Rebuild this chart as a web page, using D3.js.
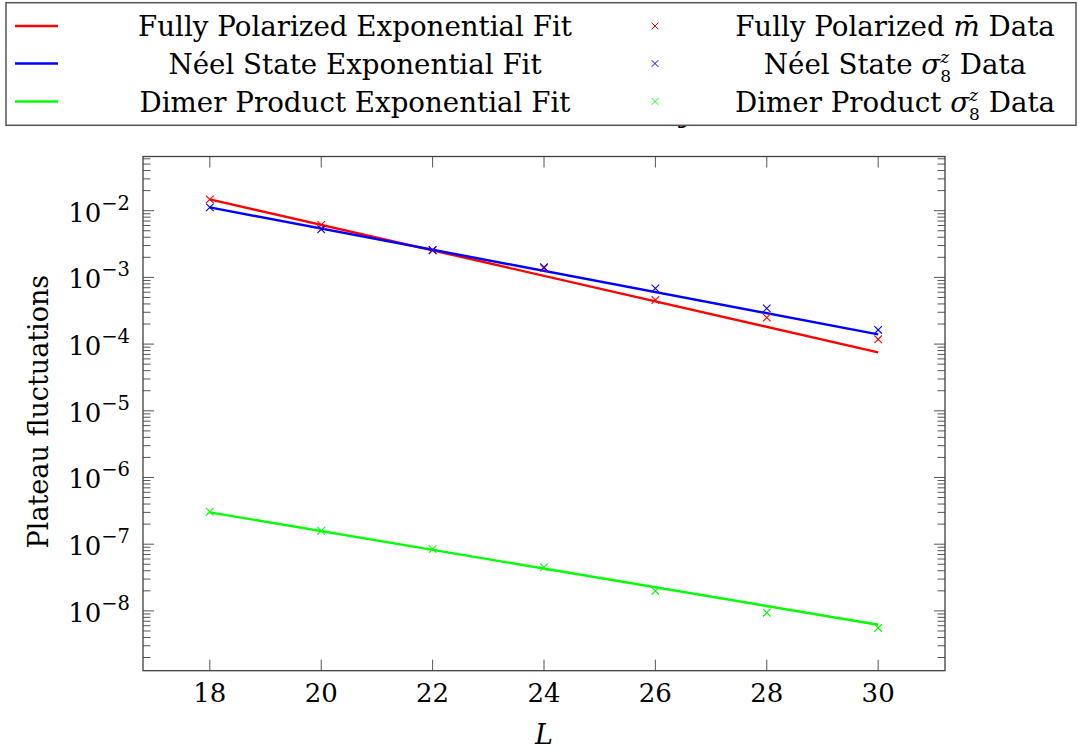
<!DOCTYPE html>
<html>
<head>
<meta charset="utf-8">
<script src="https://cdn.jsdelivr.net/npm/d3@7/dist/d3.min.js"></script>
<style>
  html, body { margin: 0; padding: 0; background: #fff; }
  svg { display: block; }
</style>
</head>
<body>
<svg id="chart" width="1079" height="752" font-family="'DejaVu Serif', 'Liberation Serif', 'Times New Roman', serif"></svg>
<script>
// ---------------- data ----------------
const sizes = [18, 20, 22, 24, 26, 28, 30];
const xTickValues = [18, 20, 22, 24, 26, 28, 30];
const yTickExponents = [-2, -3, -4, -5, -6, -7, -8];

const fullyPolarizedData = [1.48e-2, 6.1e-3, 2.57e-3, 1.38e-3, 4.58e-4, 2.49e-4, 1.18e-4];
const neelData = [1.12e-2, 5.26e-3, 2.55e-3, 1.42e-3, 6.85e-4, 3.43e-4, 1.63e-4];
const dimerData = [3.07e-7, 1.59e-7, 8.47e-8, 4.51e-8, 1.99e-8, 9.4e-9, 5.55e-9];

const fitSizes = [18, 30];
const fullyPolarizedFit = [1.48e-2, 7.5e-5];
const neelFit = [1.12e-2, 1.40e-4];
const dimerFit = [3.0e-7, 6.2e-9];

const xLabel = "L";
const yLabel = "Plateau fluctuations";

// ---------------- layout ----------------
const svg = d3.select("#chart");
const plot = { left: 143, right: 945, top: 156.5, bottom: 670.7 };

const x = d3.scaleLinear().domain([16.8, 31.2]).range([plot.left, plot.right]);
const y = d3.scaleLog().domain([Math.pow(10, -8.8966), Math.pow(10, -1.1874)]).range([plot.bottom, plot.top]);

const RED = "#ff0000", BLUE = "#0000ff", GREEN = "#00ff00";
const tickFont = 26;
const labelFont = 27;
const legendFont = 27.7;

// hidden title fragment (behind legend)
svg.append("text")
  .attr("x", 679).attr("y", 122)
  .attr("font-size", labelFont).attr("font-style", "italic")
  .text("y");

// ---------------- ticks ----------------
const tickG = svg.append("g").attr("stroke", "#555").attr("stroke-width", 1);

xTickValues.forEach(v => {
  tickG.append("line").attr("x1", x(v)).attr("x2", x(v)).attr("y1", plot.bottom).attr("y2", plot.bottom - 11);
  tickG.append("line").attr("x1", x(v)).attr("x2", x(v)).attr("y1", plot.top).attr("y2", plot.top + 11);
});

const [dLo, dHi] = y.domain();
for (let k = -9; k <= -1; k++) {
  for (let m = 1; m <= 9; m++) {
    const v = m * Math.pow(10, k);
    if (v < dLo || v > dHi) continue;
    const len = m === 1 ? 11 : 7.5;
    const yy = y(v);
    tickG.append("line").attr("x1", plot.left).attr("x2", plot.left + len).attr("y1", yy).attr("y2", yy);
    tickG.append("line").attr("x1", plot.right).attr("x2", plot.right - len).attr("y1", yy).attr("y2", yy);
  }
}

svg.append("rect")
  .attr("x", plot.left).attr("y", plot.top)
  .attr("width", plot.right - plot.left).attr("height", plot.bottom - plot.top)
  .attr("fill", "none").attr("stroke", "#404040").attr("stroke-width", 1.3);

// x tick labels
svg.append("g").selectAll("text").data(xTickValues).join("text")
  .attr("x", d => x(d)).attr("y", 702)
  .attr("text-anchor", "middle").attr("font-size", tickFont)
  .text(d => d);

// y tick labels
const yl = svg.append("g").selectAll("text").data(yTickExponents).join("text")
  .attr("x", 130).attr("y", d => y(Math.pow(10, d)) + 11)
  .attr("text-anchor", "end").attr("font-size", tickFont);
yl.append("tspan").text("10");
yl.append("tspan").attr("dy", -12).attr("font-size", 19.5).text(d => "\u2212" + Math.abs(d));

// axis labels
svg.append("text")
  .attr("x", (plot.left + plot.right) / 2).attr("y", 744)
  .attr("text-anchor", "middle").attr("font-size", labelFont).attr("font-style", "italic")
  .text(xLabel);

svg.append("text")
  .attr("transform", `translate(48, ${(plot.top + plot.bottom) / 2 - 2}) rotate(-90)`)
  .attr("text-anchor", "middle").attr("font-size", labelFont)
  .text(yLabel);

// ---------------- series ----------------
const line = d3.line().x(d => x(d[0])).y(d => y(d[1]));
const fits = [
  { vals: fullyPolarizedFit, color: RED },
  { vals: neelFit, color: BLUE },
  { vals: dimerFit, color: GREEN }
];
fits.forEach(f => {
  svg.append("path")
    .datum(fitSizes.map((s, i) => [s, f.vals[i]]))
    .attr("d", line)
    .attr("fill", "none").attr("stroke", f.color).attr("stroke-width", 2.4);
});

const cross = "M-3.8,-3.8L3.8,3.8M-3.8,3.8L3.8,-3.8";
const datasets = [
  { vals: fullyPolarizedData, color: RED },
  { vals: neelData, color: BLUE },
  { vals: dimerData, color: GREEN }
];
datasets.forEach(ds => {
  svg.append("g").selectAll("path").data(sizes.map((s, i) => [s, ds.vals[i]])).join("path")
    .attr("transform", d => `translate(${x(d[0])},${y(d[1])})`)
    .attr("d", cross)
    .attr("fill", "none").attr("stroke", ds.color).attr("stroke-width", 1.1);
});

// ---------------- legend ----------------
const lg = svg.append("g");
lg.append("rect")
  .attr("x", 6).attr("y", 2.7).attr("width", 1070).attr("height", 122.6)
  .attr("fill", "#fff").attr("stroke", "#555").attr("stroke-width", 1.5);

const rowY = [26, 63.5, 101.5];
const fitLabels = ["Fully Polarized Exponential Fit", "Néel State Exponential Fit", "Dimer Product Exponential Fit"];
const colors = [RED, BLUE, GREEN];

fitLabels.forEach((t, i) => {
  lg.append("line").attr("x1", 15).attr("x2", 58).attr("y1", rowY[i]).attr("y2", rowY[i])
    .attr("stroke", colors[i]).attr("stroke-width", 2.4);
  lg.append("text").attr("x", 355).attr("y", rowY[i] + 10)
    .attr("text-anchor", "middle").attr("font-size", legendFont)
    .text(t);
});

for (let i = 0; i < 3; i++) {
  lg.append("path").attr("transform", `translate(655,${rowY[i]})`)
    .attr("d", "M-3.3,-3.3L3.3,3.3M-3.3,3.3L3.3,-3.3")
    .attr("fill", "none").attr("stroke", colors[i]).attr("stroke-width", 1);
}

const t0 = lg.append("text").attr("x", 895).attr("y", rowY[0] + 10)
  .attr("text-anchor", "middle").attr("font-size", legendFont);
t0.append("tspan").text("Fully Polarized ");
t0.append("tspan").attr("font-style", "italic").text("m\u0304");
t0.append("tspan").text(" Data");

function sigmaLabel(prefix, row) {
  const t = lg.append("text").attr("x", 895).attr("y", rowY[row] + 10)
    .attr("text-anchor", "middle").attr("font-size", legendFont);
  t.append("tspan").text(prefix);
  t.append("tspan").attr("font-style", "italic").text("σ");
  t.append("tspan").attr("font-style", "italic").attr("font-size", 17).attr("dy", -11).text("z");
  t.append("tspan").attr("font-size", 17).attr("dx", -9).attr("dy", 19).text("8");
  t.append("tspan").attr("dy", -8).text(" Data");
}
sigmaLabel("Néel State ", 1);
sigmaLabel("Dimer Product ", 2);
</script>
</body>
</html>
